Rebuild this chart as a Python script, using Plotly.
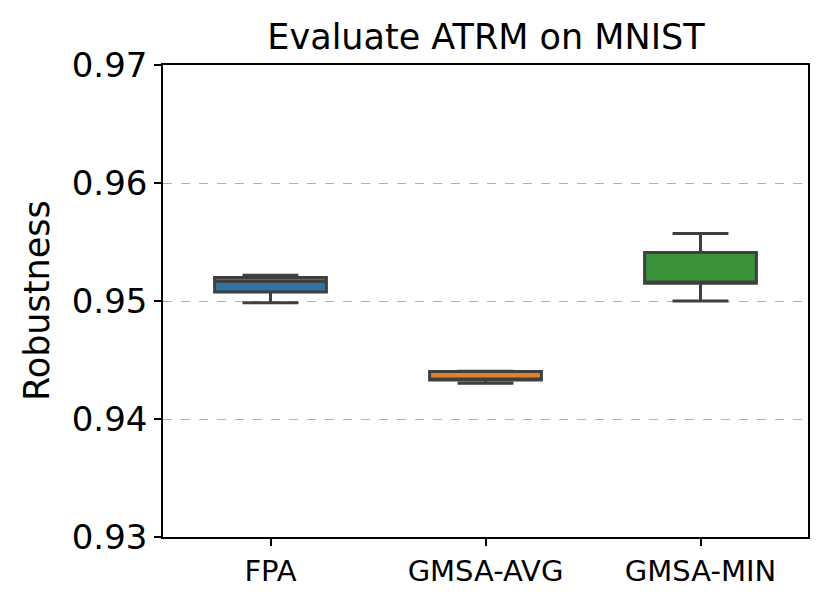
import plotly.graph_objects as go

# box statistics
methods = ["FPA", "GMSA-AVG", "GMSA-MIN"]
lower = [0.94986, 0.94302, 0.95000]
q1 = [0.95076, 0.94331, 0.95150]
median = [0.95165, 0.94336, 0.95160]
q3 = [0.95199, 0.94403, 0.95412]
upper = [0.95218, 0.94405, 0.95573]
colors = ["#3274a1", "#e1812c", "#3a923a"]

yticks = [0.93, 0.94, 0.95, 0.96, 0.97]

fig = go.Figure()
for i, name in enumerate(methods):
    fig.add_trace(go.Box(
        x=[i], q1=[q1[i]], median=[median[i]], q3=[q3[i]],
        lowerfence=[lower[i]], upperfence=[upper[i]],
        name=name, width=0.52, whiskerwidth=0.5,
        fillcolor=colors[i], line=dict(color="#3f3f3f", width=3),
        boxpoints=False, showlegend=False, hoverinfo="y",
    ))

# the page body adds an 8px offset, so margins are shifted by that
fig.update_layout(
    width=830, height=606,
    margin=dict(l=155, r=30, t=57, b=77),
    plot_bgcolor="white", paper_bgcolor="white",
    font=dict(family="DejaVu Sans", color="black"),
    title=dict(text="Evaluate ATRM on MNIST", x=478 / 830, xanchor="center",
               xref="container", y=1 - 29 / 606, yanchor="middle",
               yref="container", font=dict(size=35)),
)
# y label as annotation so it can sit further left like the original
fig.add_annotation(
    text="Robustness", xref="paper", yref="paper", x=-0.1953, y=0.5,
    xanchor="center", yanchor="middle", textangle=-90, showarrow=False,
    font=dict(size=35),
)
fig.update_xaxes(
    range=[-0.5, 2.5], tickmode="array", tickvals=[0, 1, 2], ticktext=methods,
    showline=True, linecolor="black", linewidth=1.6, mirror=True,
    ticks="outside", ticklen=7, tickwidth=1.6, tickcolor="black",
    showgrid=False, zeroline=False, tickfont=dict(size=29), automargin=False,
)
fig.update_yaxes(
    range=[0.93, 0.97], tickmode="array", tickvals=yticks,
    ticktext=["%.2f" % v for v in yticks],
    showline=True, linecolor="black", linewidth=1.6, mirror=True,
    ticks="outside", ticklen=7, tickwidth=1.6, tickcolor="black",
    showgrid=True, gridcolor="#b0b0b0", griddash="dash", gridwidth=1.3,
    zeroline=False, tickfont=dict(size=34), automargin=False,
)

fig.write_html("out.html")
